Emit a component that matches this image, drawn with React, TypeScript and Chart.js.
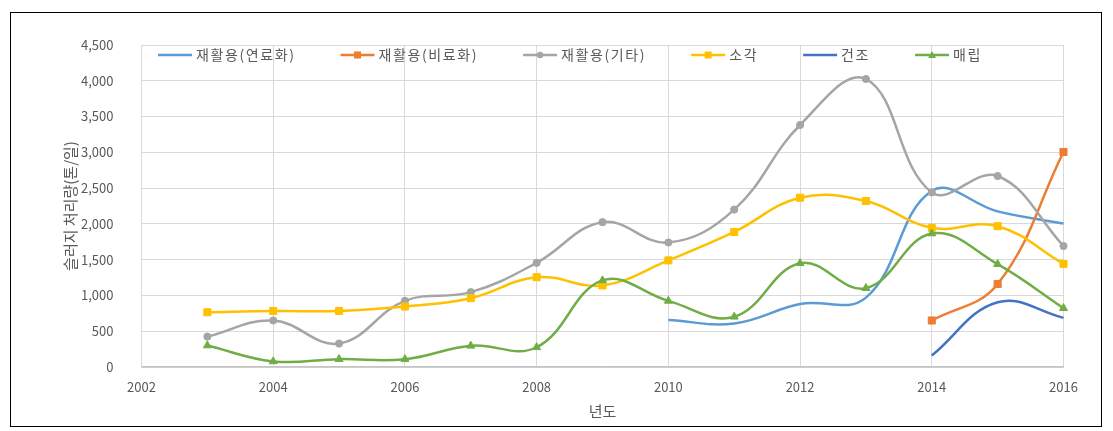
import React, { useEffect, useRef } from 'react';
import { Chart, registerables } from 'chart.js';

Chart.register(...registerables);

// ---- Data ----
const years = [2003, 2004, 2005, 2006, 2007, 2008, 2009, 2010, 2011, 2012, 2013, 2014, 2015, 2016];

const fuelYears = [2010, 2011, 2012, 2013, 2014, 2015, 2016];
const recycleFuel = [657, 608, 880, 970, 2460, 2175, 2005];

const compostYears = [2014, 2015, 2016];
const recycleCompost = [650, 1160, 3005];

const recycleOther = [424, 650, 328, 925, 1046, 1456, 2024, 1740, 2200, 3382, 4025, 2440, 2669, 1691];
const incineration = [765, 783, 783, 845, 962, 1255, 1140, 1490, 1887, 2366, 2320, 1945, 1968, 1442];

const dryingYears = [2014, 2015, 2016];
const drying = [160, 905, 687];

const landfill = [300, 78, 110, 108, 296, 276, 1210, 924, 702, 1450, 1102, 1865, 1437, 822];

const seriesNames = ['재활용(연료화)', '재활용(비료화)', '재활용(기타)', '소각', '건조', '매립'];
const seriesColors = ['#5B9BD5', '#ED7D31', '#A5A5A5', '#FFC000', '#4472C4', '#70AD47'];
const seriesMarkers: (string | null)[] = [null, 'rect', 'circle', 'rect', null, 'triangle'];

const xTitle = '년도';
const yTitle = '슬러지 처리량(톤/일)';
const xMin = 2002;
const xMax = 2016;
const xStep = 2;
const yMin = 0;
const yMax = 4500;
const yStep = 500;

const FONT = '"Noto Sans CJK KR", "Noto Sans", sans-serif';
const TEXT_COLOR = '#595959';

const toPoints = (xs: number[], ys: number[]) => xs.map((x, i) => ({ x, y: ys[i] }));

function drawMarker(ctx: CanvasRenderingContext2D, kind: string | null, x: number, y: number, color: string) {
  if (!kind) return;
  ctx.save();
  ctx.fillStyle = color;
  ctx.beginPath();
  if (kind === 'rect') {
    ctx.rect(x - 3.5, y - 3.5, 7, 7);
  } else if (kind === 'circle') {
    ctx.arc(x, y, 3.2, 0, Math.PI * 2);
  } else if (kind === 'triangle') {
    ctx.moveTo(x, y - 4);
    ctx.lineTo(x + 4, y + 3);
    ctx.lineTo(x - 4, y + 3);
    ctx.closePath();
  }
  ctx.fill();
  ctx.restore();
}

const LEGEND_SPACING = 1.6;

const legendPlugin = {
  id: 'excelLegend',
  afterDraw(chart: any) {
    const ctx: any = chart.ctx;
    const area = chart.chartArea;
    ctx.save();
    ctx.font = `14px ${FONT}`;
    ctx.textBaseline = 'middle';
    ctx.textAlign = 'left';
    let x = area.left + 16.5;
    const y = area.top + 10;
    seriesNames.forEach((name, i) => {
      const color = seriesColors[i];
      ctx.strokeStyle = color;
      ctx.lineWidth = 2.5;
      ctx.beginPath();
      ctx.moveTo(x, y);
      ctx.lineTo(x + 34, y);
      ctx.stroke();
      drawMarker(ctx, seriesMarkers[i], x + 17, y, color);
      ctx.letterSpacing = '0px';
      const baseW = ctx.measureText(name).width;
      ctx.letterSpacing = `${LEGEND_SPACING}px`;
      ctx.fillStyle = TEXT_COLOR;
      ctx.fillText(name, x + 38, y);
      x += 38 + baseW + LEGEND_SPACING * name.length + 45;
    });
    ctx.letterSpacing = '0px';
    ctx.restore();
  },
};

export default function App() {
  const canvasRef = useRef<HTMLCanvasElement | null>(null);

  useEffect(() => {
    if (!canvasRef.current) return;
    const seriesData = [
      toPoints(fuelYears, recycleFuel),
      toPoints(compostYears, recycleCompost),
      toPoints(years, recycleOther),
      toPoints(years, incineration),
      toPoints(dryingYears, drying),
      toPoints(years, landfill),
    ];
    const datasets = seriesNames.map((label, i) => {
      const marker = seriesMarkers[i];
      const radius = marker === 'rect' ? 5 : marker === 'circle' ? 3.6 : marker === 'triangle' ? 4.6 : 0;
      return {
        label,
        data: seriesData[i],
        borderColor: seriesColors[i],
        backgroundColor: seriesColors[i],
        borderWidth: 2.5,
        tension: 0.4,
        pointStyle: marker || 'circle',
        pointRadius: radius,
        pointBorderWidth: 1,
        pointBackgroundColor: seriesColors[i],
        pointBorderColor: seriesColors[i],
        order: seriesNames.length - i,
        clip: false as any,
        fill: false,
      };
    });

    const chart = new Chart(canvasRef.current, {
      type: 'line',
      data: { datasets },
      plugins: [legendPlugin],
      options: {
        animation: false,
        responsive: false,
        maintainAspectRatio: false,
        parsing: false as any,
        layout: { padding: { left: 57, right: 49.5, top: 45, bottom: 0 } },
        plugins: {
          legend: { display: false },
          tooltip: { enabled: false },
        },
        scales: {
          x: {
            type: 'linear',
            min: xMin,
            max: xMax,
            ticks: {
              stepSize: xStep,
              padding: 12,
              color: TEXT_COLOR,
              font: { family: FONT, size: 13 },
              callback: (v: any) => String(v),
            },
            grid: { color: '#d9d9d9', lineWidth: 1, drawTicks: false },
            border: { color: '#c4c4c4', width: 1.5 },
            title: {
              display: true,
              text: xTitle,
              color: TEXT_COLOR,
              font: { family: FONT, size: 15 },
              padding: { top: 0, bottom: 11 },
            },
            afterFit: (s: any) => {
              s.height = 64;
            },
          },
          y: {
            type: 'linear',
            min: yMin,
            max: yMax,
            ticks: {
              stepSize: yStep,
              padding: 28,
              color: TEXT_COLOR,
              font: { family: FONT, size: 13 },
              callback: (v: any) => Number(v).toLocaleString('en-US'),
            },
            grid: { color: '#d9d9d9', lineWidth: 1, drawTicks: false },
            border: { color: '#d9d9d9', width: 1 },
            title: {
              display: true,
              text: yTitle,
              color: TEXT_COLOR,
              font: { family: FONT, size: 15 },
              padding: { top: 4, bottom: 4 },
            },
            afterFit: (s: any) => {
              s.width = 84.5;
            },
          },
        },
      } as any,
    });
    return () => chart.destroy();
  }, []);

  return (
    <div style={{ position: 'absolute', left: 0, top: 0, width: 1113, height: 431, background: '#fff' }}>
      <div
        style={{
          position: 'absolute',
          left: 10,
          top: 12,
          width: 1092,
          height: 415,
          border: '1.5px solid #000',
          boxSizing: 'border-box',
        }}
      />
      <canvas
        ref={canvasRef}
        width={1113}
        height={431}
        style={{ position: 'absolute', left: 0, top: 0, width: 1113, height: 431 }}
      />
    </div>
  );
}
